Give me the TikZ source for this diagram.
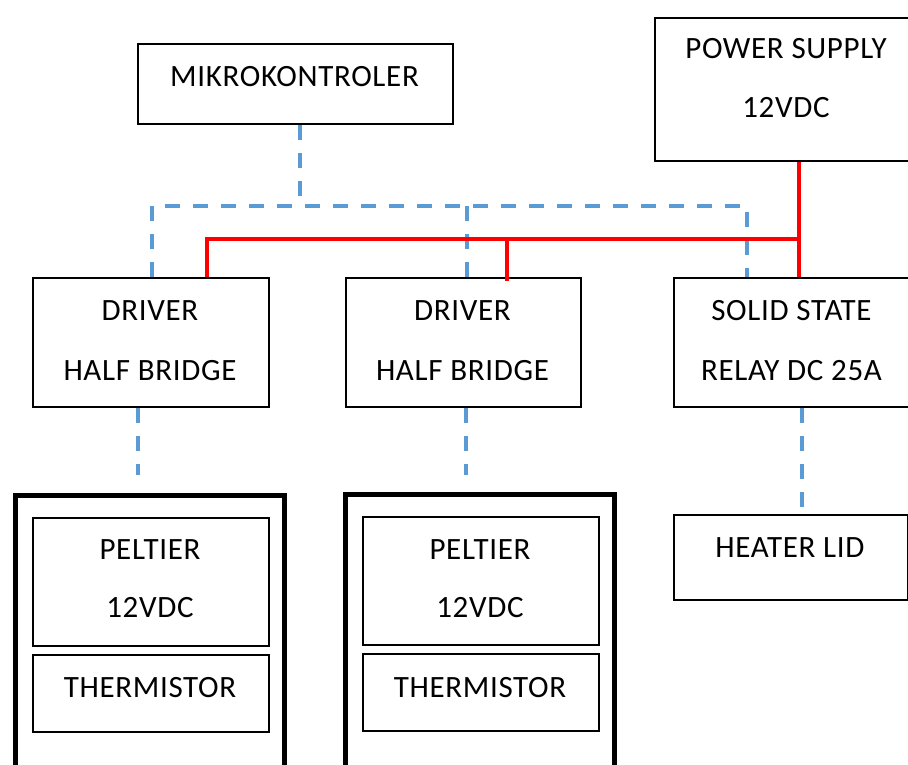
\documentclass[tikz,border=0pt]{standalone}
\usepackage{fontspec}
\setmainfont[LetterSpace=2.2]{Carlito}
\definecolor{sigblue}{RGB}{91,155,213}
\definecolor{pwrred}{RGB}{255,0,0}
\begin{document}
\begin{tikzpicture}[x=1pt,y=-1pt,
  box/.style={draw=black, line width=2pt, inner sep=0pt, anchor=north west},
  outerbox/.style={draw=black, line width=4.5pt, inner sep=0pt, anchor=north west},
  sig/.style={draw=sigblue, line width=3.5pt, dash pattern=on 15pt off 13pt},
  pwr/.style={draw=pwrred, line width=3.5pt},
  txt/.style={anchor=base, inner sep=0pt, font=\fontsize{31}{37}\selectfont}]
\useasboundingbox (0,0) rectangle (908,765);
\clip (0,0) rectangle (908,765);
\fill[white] (0,0) rectangle (908,765);

% boxes
\node[box, minimum width=315pt, minimum height=80pt] (mik) at (137,43) {};
\node[box, minimum width=264pt, minimum height=143pt] (psu) at (654,17) {};
\node[box, minimum width=236pt, minimum height=129pt] (d1) at (32,277) {};
\node[box, minimum width=235pt, minimum height=129pt] (d2) at (345,277) {};
\node[box, minimum width=237pt, minimum height=129pt] (ssr) at (673,277) {};
\node[box, minimum width=234pt, minimum height=85pt] (heat) at (673,514) {};
\node[outerbox, minimum width=269pt, minimum height=290pt] (o1) at (13,493) {};
\node[box, minimum width=236pt, minimum height=128pt] (p1) at (32,517) {};
\node[box, minimum width=236pt, minimum height=77pt] (t1) at (32,654) {};
\node[outerbox, minimum width=269pt, minimum height=290pt] (o2) at (343,492) {};
\node[box, minimum width=236pt, minimum height=128pt] (p2) at (362,516) {};
\node[box, minimum width=236pt, minimum height=77pt] (t2) at (362,653) {};

% texts
\node[txt] (mikT) at (294.5,87) {MIKROKONTROLER};
\node[txt] (psuT1) at (786,59) {POWER SUPPLY};
\node[txt] (psuT2) at (786,118) {12VDC};
\node[txt] (d1T1) at (150,320) {DRIVER};
\node[txt] (d1T2) at (150,380) {HALF BRIDGE};
\node[txt] (d2T1) at (462.5,320) {DRIVER};
\node[txt] (d2T2) at (462.5,380) {HALF BRIDGE};
\node[txt] (ssrT1) at (791.5,320) {SOLID STATE};
\node[txt] (ssrT2) at (791.5,380) {RELAY DC 25A};
\node[txt] (heatT) at (790,557) {HEATER LID};
\node[txt] (p1T1) at (150,559) {PELTIER};
\node[txt] (p1T2) at (150,617) {12VDC};
\node[txt] (t1T) at (150,697) {THERMISTOR};
\node[txt] (p2T1) at (480,559) {PELTIER};
\node[txt] (p2T2) at (480,617) {12VDC};
\node[txt] (t2T) at (480,697) {THERMISTOR};

% signal (blue dashed)
\coordinate (j0) at (300,206);
\coordinate (bL) at (152,206);
\coordinate (bR) at (747,206);
\coordinate (b2) at (467,206);
\coordinate (e1) at (138,475);
\coordinate (e2) at (466,475);
\coordinate (hx) at (802,0);
\draw[sig] (mik.south -| j0) -- (j0);
\draw[sig] (d1.north -| bL) -- (bL) -- (bR) -- (ssr.north -| bR);
\draw[sig] (b2) -- (d2.north -| b2);
\draw[sig] (d1.south -| e1) -- (e1);
\draw[sig] (d2.south -| e2) -- (e2);
\draw[sig] (ssr.south -| hx) -- (heat.north -| hx);

% power (red)
\coordinate (r0) at (207,239);
\coordinate (rR) at (800.5,239);
\coordinate (r2) at (507,239);
\coordinate (rv) at (799,239);
\draw[pwr] (d1.north -| r0) -- (r0) -- (rR);
\draw[pwr] (r2) -- ([yshift=-4pt]d2.north -| r2);
\draw[pwr] (psu.south -| rv) -- (ssr.north -| rv);
\end{tikzpicture}
\end{document}
